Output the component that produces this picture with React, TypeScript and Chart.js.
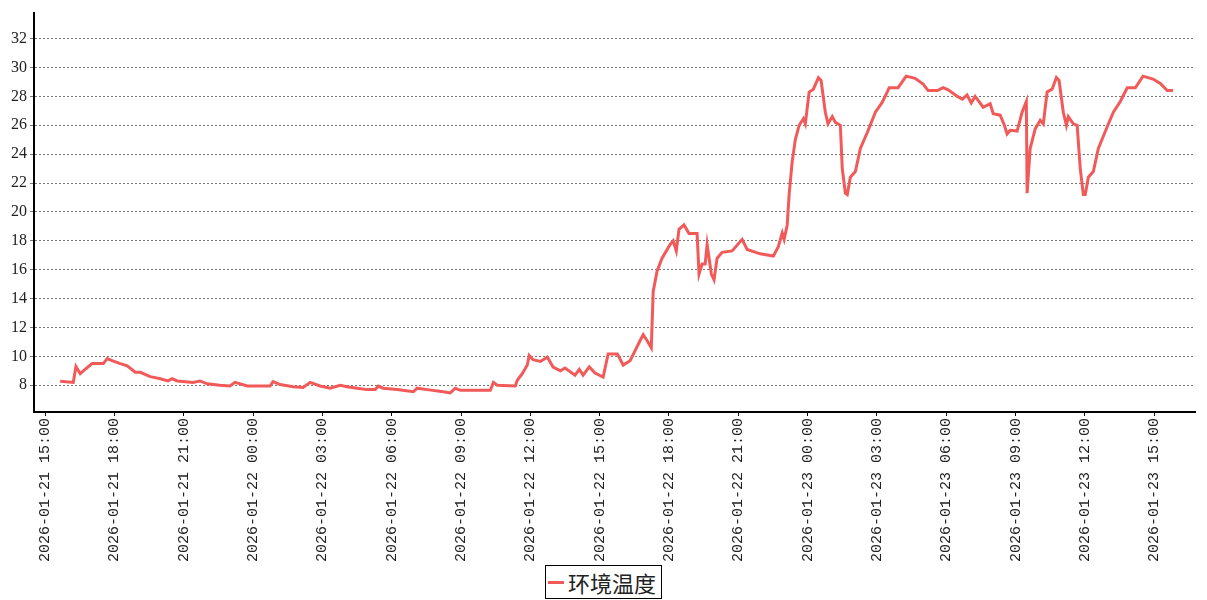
import React, { useEffect, useRef } from "react";
import { Chart, registerables } from "chart.js";

Chart.register(...registerables);

const seriesName = "环境温度";

const times: string[] = [
  "2026-01-21 15:39", "2026-01-21 16:13", "2026-01-21 16:20", "2026-01-21 16:31", "2026-01-21 16:39",
  "2026-01-21 17:02", "2026-01-21 17:15", "2026-01-21 17:31", "2026-01-21 17:41", "2026-01-21 17:54",
  "2026-01-21 18:15", "2026-01-21 18:33", "2026-01-21 18:54", "2026-01-21 19:07", "2026-01-21 19:33",
  "2026-01-21 19:59", "2026-01-21 20:19", "2026-01-21 20:30", "2026-01-21 20:43", "2026-01-21 21:24",
  "2026-01-21 21:42", "2026-01-21 22:01", "2026-01-21 22:34", "2026-01-21 23:00", "2026-01-21 23:13",
  "2026-01-21 23:45", "2026-01-22 00:44", "2026-01-22 00:52", "2026-01-22 01:10", "2026-01-22 01:44",
  "2026-01-22 02:10", "2026-01-22 02:28", "2026-01-22 02:54", "2026-01-22 03:20", "2026-01-22 03:46",
  "2026-01-22 04:04", "2026-01-22 04:30", "2026-01-22 04:56", "2026-01-22 05:17", "2026-01-22 05:25",
  "2026-01-22 05:38", "2026-01-22 06:14", "2026-01-22 06:56", "2026-01-22 07:06", "2026-01-22 07:32",
  "2026-01-22 08:14", "2026-01-22 08:32", "2026-01-22 08:45", "2026-01-22 08:58", "2026-01-22 10:16",
  "2026-01-22 10:24", "2026-01-22 10:34", "2026-01-22 11:21", "2026-01-22 11:26", "2026-01-22 11:39",
  "2026-01-22 11:52", "2026-01-22 11:57", "2026-01-22 12:07", "2026-01-22 12:26", "2026-01-22 12:44",
  "2026-01-22 12:59", "2026-01-22 13:18", "2026-01-22 13:30", "2026-01-22 13:56", "2026-01-22 14:07",
  "2026-01-22 14:17", "2026-01-22 14:33", "2026-01-22 14:48", "2026-01-22 15:09", "2026-01-22 15:22",
  "2026-01-22 15:46", "2026-01-22 16:01", "2026-01-22 16:19", "2026-01-22 16:32", "2026-01-22 16:45",
  "2026-01-22 16:53", "2026-01-22 17:03", "2026-01-22 17:14", "2026-01-22 17:19", "2026-01-22 17:29",
  "2026-01-22 17:42", "2026-01-22 18:03", "2026-01-22 18:11", "2026-01-22 18:19", "2026-01-22 18:26",
  "2026-01-22 18:39", "2026-01-22 18:52", "2026-01-22 19:13", "2026-01-22 19:18", "2026-01-22 19:26",
  "2026-01-22 19:34", "2026-01-22 19:39", "2026-01-22 19:50", "2026-01-22 19:57", "2026-01-22 20:05",
  "2026-01-22 20:18", "2026-01-22 20:44", "2026-01-22 21:10", "2026-01-22 21:23", "2026-01-22 21:57",
  "2026-01-22 22:31", "2026-01-22 22:44", "2026-01-22 22:54", "2026-01-22 22:59", "2026-01-22 23:07",
  "2026-01-22 23:12", "2026-01-22 23:20", "2026-01-22 23:28", "2026-01-22 23:38", "2026-01-22 23:49",
  "2026-01-22 23:54", "2026-01-23 00:04", "2026-01-23 00:15", "2026-01-23 00:28", "2026-01-23 00:35",
  "2026-01-23 00:46", "2026-01-23 00:53", "2026-01-23 01:04", "2026-01-23 01:12", "2026-01-23 01:25",
  "2026-01-23 01:30", "2026-01-23 01:38", "2026-01-23 01:43", "2026-01-23 01:51", "2026-01-23 02:04",
  "2026-01-23 02:17", "2026-01-23 02:35", "2026-01-23 02:56", "2026-01-23 03:14", "2026-01-23 03:32",
  "2026-01-23 03:55", "2026-01-23 04:16", "2026-01-23 04:39", "2026-01-23 05:00", "2026-01-23 05:13",
  "2026-01-23 05:37", "2026-01-23 05:52", "2026-01-23 06:05", "2026-01-23 06:29", "2026-01-23 06:42",
  "2026-01-23 06:54", "2026-01-23 07:05", "2026-01-23 07:15", "2026-01-23 07:36", "2026-01-23 07:54",
  "2026-01-23 08:02", "2026-01-23 08:20", "2026-01-23 08:31", "2026-01-23 08:38", "2026-01-23 08:46",
  "2026-01-23 09:04", "2026-01-23 09:17", "2026-01-23 09:28", "2026-01-23 09:30", "2026-01-23 09:38",
  "2026-01-23 09:51", "2026-01-23 10:04", "2026-01-23 10:12", "2026-01-23 10:22", "2026-01-23 10:35",
  "2026-01-23 10:46", "2026-01-23 10:53", "2026-01-23 11:04", "2026-01-23 11:12", "2026-01-23 11:17",
  "2026-01-23 11:30", "2026-01-23 11:40", "2026-01-23 11:48", "2026-01-23 11:56", "2026-01-23 12:01",
  "2026-01-23 12:09", "2026-01-23 12:22", "2026-01-23 12:35", "2026-01-23 12:58", "2026-01-23 13:14",
  "2026-01-23 13:32", "2026-01-23 13:50", "2026-01-23 14:11", "2026-01-23 14:31", "2026-01-23 14:57",
  "2026-01-23 15:16", "2026-01-23 15:34", "2026-01-23 15:49",
];

const temps: number[] = [
  8.28, 8.2, 9.3, 8.8, 9.0,
  9.5, 9.5, 9.5, 9.85, 9.7,
  9.5, 9.35, 8.9, 8.9, 8.6,
  8.45, 8.3, 8.45, 8.3, 8.2,
  8.3, 8.1, 8.0, 7.95, 8.2,
  7.95, 7.95, 8.25, 8.05, 7.9,
  7.85, 8.2, 7.95, 7.8, 8.0,
  7.9, 7.8, 7.7, 7.7, 7.95,
  7.8, 7.7, 7.55, 7.8, 7.7,
  7.55, 7.47, 7.8, 7.65, 7.65,
  8.2, 8.0, 7.95, 8.35, 8.8,
  9.4, 10.06, 9.77, 9.65, 9.95,
  9.26, 9.0, 9.2, 8.7, 9.1,
  8.7, 9.27, 8.85, 8.57, 10.17,
  10.17, 9.4, 9.7, 10.4, 11.1,
  11.5, 11.1, 10.6, 14.5, 15.9,
  16.8, 17.75, 18.0, 17.3, 18.8,
  19.1, 18.5, 18.5, 15.7, 16.4,
  16.4, 17.75, 15.7, 15.3, 16.8,
  17.2, 17.3, 18.1, 17.4, 17.1,
  16.95, 17.6, 18.55, 18.1, 19.1,
  21.2, 23.5, 25.0, 26.0, 26.45,
  26.1, 28.3, 28.5, 29.3, 29.1,
  26.9, 26.1, 26.6, 26.2, 26.0,
  23.0, 21.3, 21.2, 22.4, 22.8,
  24.4, 25.5, 26.9, 27.6, 28.6,
  28.6, 29.4, 29.25, 28.85, 28.4,
  28.4, 28.6, 28.45, 28.0, 27.8,
  28.1, 27.55, 28.0, 27.25, 27.5,
  26.8, 26.7, 26.0, 25.4, 25.65,
  25.6, 26.9, 27.65, 21.3, 24.4,
  25.75, 26.35, 26.1, 28.3, 28.5,
  29.3, 29.1, 26.9, 26.0, 26.6,
  26.1, 26.0, 23.0, 21.2, 21.2,
  22.4, 22.8, 24.4, 25.9, 26.9,
  27.65, 28.6, 28.6, 29.4, 29.2,
  28.9, 28.4, 28.4,
];

const xTickLabels: string[] = [
  "2026-01-21 15:00", "2026-01-21 18:00", "2026-01-21 21:00", "2026-01-22 00:00",
  "2026-01-22 03:00", "2026-01-22 06:00", "2026-01-22 09:00", "2026-01-22 12:00",
  "2026-01-22 15:00", "2026-01-22 18:00", "2026-01-22 21:00", "2026-01-23 00:00",
  "2026-01-23 03:00", "2026-01-23 06:00", "2026-01-23 09:00", "2026-01-23 12:00",
  "2026-01-23 15:00",
];

const yTicks: number[] = [8, 10, 12, 14, 16, 18, 20, 22, 24, 26, 28, 30, 32];

const xRange: string[] = ["2026-01-21 14:31", "2026-01-23 16:46"];
const yRange: number[] = [6.15, 33.8];

// minutes since 2026-01-21 00:00
function toMin(s: string): number {
  const day = parseInt(s.slice(8, 10), 10) - 21;
  const hh = parseInt(s.slice(11, 13), 10);
  const mm = parseInt(s.slice(14, 16), 10);
  return day * 1440 + hh * 60 + mm;
}

export default function App() {
  const canvasRef = useRef<HTMLCanvasElement | null>(null);

  useEffect(() => {
    const canvas = canvasRef.current;
    if (!canvas) return;
    const labelMap = new Map<number, string>();
    xTickLabels.forEach((s) => labelMap.set(toMin(s), s));

    const chart = new Chart(canvas, {
      type: "line",
      data: {
        datasets: [
          {
            label: seriesName,
            data: times.map((t, i) => ({ x: toMin(t), y: temps[i] })),
            borderColor: "#f25a5a",
            backgroundColor: "#f25a5a",
            borderWidth: 3,
            pointRadius: 0,
            tension: 0,
            fill: false,
          },
        ],
      },
      options: {
        animation: false,
        responsive: true,
        maintainAspectRatio: false,
        layout: { padding: { top: 10, right: 12, left: 0, bottom: 0 } },
        plugins: {
          legend: { display: false },
          tooltip: { enabled: false },
        },
        scales: {
          x: {
            type: "linear",
            min: toMin(xRange[0]),
            max: toMin(xRange[1]),
            afterBuildTicks: (scale: any) => {
              scale.ticks = xTickLabels.map((s) => ({ value: toMin(s) }));
            },
            afterFit: (scale: any) => {
              scale.height = 188;
            },
            grid: {
              drawOnChartArea: false,
              drawTicks: true,
              tickLength: 4,
              color: "#000",
              lineWidth: 1,
            },
            border: { display: true, color: "#000", width: 2 },
            ticks: {
              autoSkip: false,
              minRotation: 90,
              maxRotation: 90,
              padding: 2,
              color: "#222",
              font: { family: "'Liberation Mono', monospace", size: 15 },
              callback: (v: any) => labelMap.get(Number(v)) ?? "",
            },
          },
          y: {
            type: "linear",
            min: yRange[0],
            max: yRange[1],
            afterBuildTicks: (scale: any) => {
              scale.ticks = yTicks.map((v) => ({ value: v }));
            },
            afterFit: (scale: any) => {
              scale.width = 34;
            },
            grid: {
              color: "#777",
              lineWidth: 1,
              tickLength: 4,
            },
            border: { display: true, color: "#000", width: 2, dash: [2, 2] },
            ticks: {
              padding: 3,
              color: "#222",
              font: { family: "'Liberation Serif', serif", size: 16 },
              callback: (v: any) => String(v),
            },
          },
        },
      },
    });
    return () => chart.destroy();
  }, []);

  return (
    <div
      style={{
        position: "fixed",
        left: 0,
        top: 0,
        width: 1207,
        height: 600,
        background: "#fff",
      }}
    >
      <div style={{ position: "absolute", left: 0, top: 0, width: 1207, height: 600 }}>
        <canvas ref={canvasRef} />
      </div>
      <div
        style={{
          position: "absolute",
          left: 545,
          top: 565,
          width: 115,
          height: 32,
          border: "1px solid #000",
          background: "#fff",
          display: "flex",
          alignItems: "center",
          boxSizing: "content-box",
        }}
      >
        <span
          style={{
            display: "inline-block",
            width: 16,
            height: 3,
            background: "#f25a5a",
            marginLeft: 2,
            marginRight: 4,
          }}
        />
        <span
          style={{
            fontFamily: "'Noto Sans CJK SC', sans-serif",
            fontSize: 22,
            color: "#222",
            lineHeight: "32px",
            whiteSpace: "nowrap",
          }}
        >
          {seriesName}
        </span>
      </div>
    </div>
  );
}
